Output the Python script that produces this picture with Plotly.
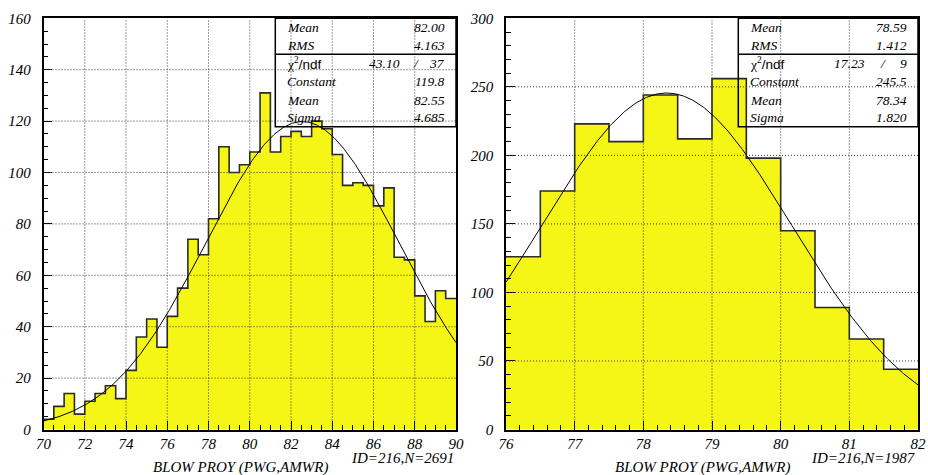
import numpy as np
import plotly.graph_objects as go

# ---- data -------------------------------------------------------------
left_range = [70, 90]
left_bin_width = 0.5
left_counts = [4, 9, 14, 6, 11, 14, 17, 12, 23, 36, 43, 32, 44, 55, 74, 68,
               82, 110, 100, 103, 108, 131, 108, 114, 116, 114, 120, 117,
               107, 95, 96, 95, 87, 94, 67, 66, 52, 42, 54, 51]
left_stats = {"Mean": "82.00", "RMS": "4.163"}
left_fit = {"chi2": "43.10", "ndf": "37", "Constant": 119.8, "Mean": 82.55, "Sigma": 4.685}
left_id = "ID=216,N=2691"

right_range = [76, 82]
right_bin_width = 0.5
right_counts = [126, 174, 223, 210, 244, 212, 256, 198, 145, 89, 66, 44]
right_stats = {"Mean": "78.59", "RMS": "1.412"}
right_fit = {"chi2": "17.23", "ndf": "9", "Constant": 245.5, "Mean": 78.34, "Sigma": 1.820}
right_id = "ID=216,N=1987"

x_title = "BLOW PROY (PWG,AMWR)"

# ---- styling ----------------------------------------------------------
W, H = 928, 475
SERIF = "Liberation Serif"
FILL = "#f5f516"
OUTLINE = "#2a2a2a"


def px(x):
    return x / W


def py(y):
    return 1 - y / H


fig = go.Figure()


def add_hist(counts, lo, width, xa, ya):
    edges = lo + width * np.arange(len(counts) + 1)
    ys = list(counts) + [counts[-1]]
    fig.add_trace(go.Scatter(
        x=edges, y=ys, mode="lines", line_shape="hv",
        line=dict(color=OUTLINE, width=1.6),
        fill="tozeroy", fillcolor=FILL,
        xaxis=xa, yaxis=ya, showlegend=False, hoverinfo="skip"))


def add_fit(fit, xr, xa, ya):
    xs = np.linspace(xr[0], xr[1], 400)
    ys = fit["Constant"] * np.exp(-0.5 * ((xs - fit["Mean"]) / fit["Sigma"]) ** 2)
    fig.add_trace(go.Scatter(
        x=xs, y=ys, mode="lines", line=dict(color="black", width=1),
        xaxis=xa, yaxis=ya, showlegend=False, hoverinfo="skip"))


add_hist(left_counts, left_range[0], left_bin_width, "x", "y")
add_fit(left_fit, left_range, "x", "y")
add_hist(right_counts, right_range[0], right_bin_width, "x2", "y2")
add_fit(right_fit, right_range, "x2", "y2")

tickfont = dict(family=SERIF, size=15, color="black", style="italic")


def axis(domain, rng, dtick, minor_dtick, anchor, standoff):
    return dict(
        domain=domain, range=rng, dtick=dtick, tick0=0, anchor=anchor,
        showgrid=False, zeroline=False,
        showline=True, linecolor="black", linewidth=1.5, mirror=True,
        ticks="inside", ticklen=9, tickwidth=1, tickcolor="black",
        minor=dict(ticks="inside", ticklen=5, dtick=minor_dtick, tickcolor="black",
                   showgrid=False),
        tickfont=tickfont, ticklabelstandoff=standoff,
        automargin=False, fixedrange=True,
    )


ydom = [py(429.5), py(18.3)]
fig.update_layout(
    width=W, height=H,
    margin=dict(l=0, r=0, t=0, b=0),
    paper_bgcolor="white", plot_bgcolor="white",
    xaxis=axis([px(43.5), px(456)], left_range, 2, 0.5, "y", 0),
    yaxis=axis(ydom, [0, 160], 20, 5, "x", 8),
    xaxis2=axis([px(506), px(918)], right_range, 1, 0.2, "y2", 0),
    yaxis2=axis(ydom, [0, 300], 50, 10, "x2", 8),
)

# dotted grid drawn on top of the filled histograms
grid = dict(color="#3a3a3a", width=1, dash="1px,2px")


def add_grid(xvals, yvals, xr, yr, xref, yref):
    for xv in xvals:
        fig.add_shape(type="line", x0=xv, x1=xv, y0=yr[0], y1=yr[1],
                      xref=xref, yref=yref, line=grid, layer="above")
    for yv in yvals:
        fig.add_shape(type="line", x0=xr[0], x1=xr[1], y0=yv, y1=yv,
                      xref=xref, yref=yref, line=grid, layer="above")


add_grid(range(72, 90, 2), range(20, 160, 20), left_range, [0, 160], "x", "y")
add_grid(range(77, 82), range(50, 300, 50), right_range, [0, 300], "x2", "y2")


# statistics boxes
def add_stats(box_x0, box_x1, stats, fit, chi_val_x, slash_x):
    top, mid, bottom = 18.3, 54.3, 126.7
    line = dict(color="black", width=1.5)
    fig.add_shape(type="rect", xref="paper", yref="paper",
                  x0=px(box_x0), x1=px(box_x1), y0=py(bottom), y1=py(top),
                  line=line, layer="above")
    fig.add_shape(type="line", xref="paper", yref="paper",
                  x0=px(box_x0), x1=px(box_x1), y0=py(mid), y1=py(mid),
                  line=line, layer="above")
    f = dict(family=SERIF, size=13.5, color="black")
    text_x = box_x0 + 9.5
    val_x = box_x1 - 9.5
    rows_y = [27.5, 45.3, 63.3, 81.7, 100.0, 117.3]

    def txt(x, y, s, anchor, italic=True):
        fig.add_annotation(x=px(x), y=py(y), xref="paper", yref="paper",
                           text=f"<i>{s}</i>" if italic else s,
                           showarrow=False, xanchor=anchor, yanchor="middle",
                           font=f)

    txt(text_x, rows_y[0], "Mean", "left")
    txt(val_x, rows_y[0], stats["Mean"], "right")
    txt(text_x, rows_y[1], "RMS", "left")
    txt(val_x, rows_y[1], stats["RMS"], "right")
    txt(text_x, rows_y[2],
        "χ<sup>2</sup><span style='font-family:Liberation Sans'>/ndf</span>",
        "left", italic=False)
    txt(chi_val_x, rows_y[2], fit["chi2"], "right")
    txt(slash_x, rows_y[2], "/", "center")
    txt(val_x, rows_y[2], fit["ndf"], "right")
    txt(text_x, rows_y[3], "Constant", "left")
    txt(val_x, rows_y[3], f"{fit['Constant']:.1f}", "right")
    txt(text_x, rows_y[4], "Mean", "left")
    txt(val_x, rows_y[4], f"{fit['Mean']:.2f}", "right")
    txt(text_x, rows_y[5], "Sigma", "left")
    txt(val_x, rows_y[5], f"{fit['Sigma']:.3f}", "right")


add_stats(275.3, 456, left_stats, left_fit, 402, 416)
add_stats(738.3, 918, right_stats, right_fit, 867, 882.7)

# axis titles and identifiers
lab = dict(family=SERIF, size=15, color="black")
for cx, rx, ident in [(240, 456, left_id), (702.5, 918, right_id)]:
    fig.add_annotation(x=px(cx), y=py(467.5), xref="paper", yref="paper",
                       text=f"<i>{x_title}</i>", showarrow=False, xanchor="center",
                       yanchor="middle", font=lab)
    fig.add_annotation(x=px(rx), y=py(457.5), xref="paper", yref="paper",
                       text=f"<i>{ident}</i>", showarrow=False, xanchor="right",
                       yanchor="middle", font=lab)

fig.write_html("out.html", config=dict(displayModeBar=False))
